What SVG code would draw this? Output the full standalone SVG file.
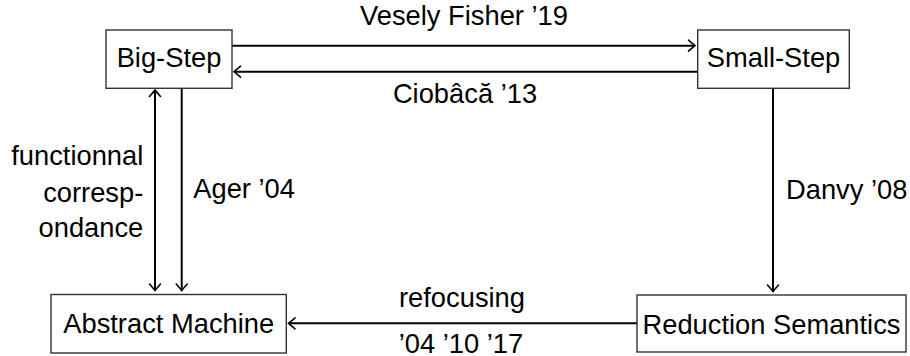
<svg xmlns="http://www.w3.org/2000/svg" width="910" height="356" viewBox="0 0 910 356">
  <style>
    text { font-family: "Liberation Sans", Arial, sans-serif; font-size: 27.3px; fill: #000; }
    .box { fill: #fff; stroke: #333; stroke-width: 1.4; }
    .mid { text-anchor: middle; }
    .end { text-anchor: end; }
    .edge { fill: none; stroke: #000; stroke-width: 2; }
  </style>
  <defs>
    <marker id="to" viewBox="-10 -7 12 14" markerWidth="12" markerHeight="14" refX="0" refY="0" orient="auto-start-reverse" markerUnits="userSpaceOnUse">
      <path d="M -6.5,-5.5 Q -1.5,-1.2 0,0 Q -1.5,1.2 -6.5,5.5" fill="none" stroke="#000" stroke-width="1.6" stroke-linecap="round"/>
    </marker>
  </defs>

  <g id="edges">
    <!-- Big-Step to Small-Step -->
    <line class="edge" x1="232" y1="45.7" x2="695" y2="45.7" marker-end="url(#to)"/>
    <text class="mid" x="464" y="25">Vesely Fisher ’19</text>
    <!-- Small-Step to Big-Step -->
    <line class="edge" x1="698" y1="71.7" x2="234" y2="71.7" marker-end="url(#to)"/>
    <text class="mid" x="465" y="103.3">Ciobâcă ’13</text>
    <!-- Big-Step and Abstract Machine, both ways -->
    <line class="edge" x1="155" y1="90" x2="155" y2="290.5" marker-start="url(#to)" marker-end="url(#to)"/>
    <text class="end" x="143.3" y="165">functionnal</text>
    <text class="end" x="143.3" y="201.5">corresp-</text>
    <text class="end" x="143.3" y="236.7">ondance</text>
    <!-- Big-Step to Abstract Machine -->
    <line class="edge" x1="181.7" y1="88.3" x2="181.7" y2="290.5" marker-end="url(#to)"/>
    <text x="193.3" y="198.3">Ager ’04</text>
    <!-- Small-Step to Reduction Semantics -->
    <line class="edge" x1="773" y1="88.3" x2="773" y2="291.5" marker-end="url(#to)"/>
    <text x="786" y="199.3">Danvy ’08</text>
    <!-- Reduction Semantics to Abstract Machine -->
    <line class="edge" x1="637" y1="323.3" x2="288.5" y2="323.3" marker-end="url(#to)"/>
    <text class="mid" x="462" y="306.7">refocusing</text>
    <text class="mid" x="461" y="353">’04 ’10 ’17</text>
  </g>

  <g id="big-step">
    <rect class="box" x="106" y="30" width="126" height="58.3"/>
    <text class="mid" x="169" y="66.7">Big-Step</text>
  </g>
  <g id="small-step">
    <rect class="box" x="697.7" y="30" width="151.6" height="58.3"/>
    <text class="mid" x="773.5" y="66.7">Small-Step</text>
  </g>
  <g id="abstract-machine">
    <rect class="box" x="51" y="294.5" width="235.3" height="58.5"/>
    <text class="mid" x="168.7" y="333.3">Abstract Machine</text>
  </g>
  <g id="reduction-semantics">
    <rect class="box" x="637" y="295" width="269" height="57"/>
    <text class="mid" x="771.5" y="334">Reduction Semantics</text>
  </g>
</svg>
